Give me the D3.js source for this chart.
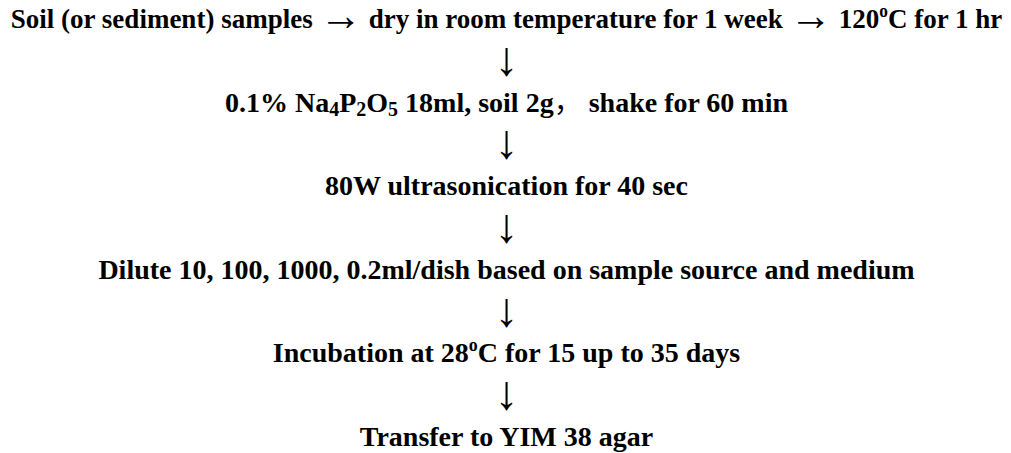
<!DOCTYPE html>
<html>
<head>
<meta charset="utf-8">
<script src="https://cdn.jsdelivr.net/npm/d3@7"></script>
<style>
  html, body { margin: 0; padding: 0; background: #fff; }
  svg { display: block; }
</style>
</head>
<body>
<svg id="chart" width="1011" height="453"></svg>
<script>
// Flowchart steps: each step is a list of [text, style] segments
// style: "n" normal, "sup" superscript, "sub" subscript, "arr" arrow glyph, "cjk" full-width punctuation
const step1 = [["Soil (or sediment) samples ", "n"], ["\u2192", "arr"], [" dry in room temperature for 1 week ", "n"], ["\u2192", "arr"], [" 120", "n"], ["o", "sup"], ["C for 1 hr", "n"]];
const step2 = [["0.1% Na", "n"], ["4", "sub"], ["P", "n"], ["2", "sub"], ["O", "n"], ["5", "sub"], [" 18ml, soil 2g", "n"], ["\uFF0C", "cjk"], [" shake for 60 min", "n"]];
const step3 = [["80W ultrasonication for 40 sec", "n"]];
const step4 = [["Dilute 10, 100, 1000, 0.2ml/dish based on sample source and medium", "n"]];
const step5 = [["Incubation at 28", "n"], ["o", "sup"], ["C for 15 up to 35 days", "n"]];
const step6 = [["Transfer to YIM 38 agar", "n"]];
const steps = [step1, step2, step3, step4, step5, step6];
const arrowGlyph = "\u2193";

const W = 1011, H = 453;
const firstLineWidth = 992;
const svg = d3.select("#chart");

// rows: step, arrow, step, arrow, ...
const rows = [];
steps.forEach((s, i) => {
  rows.push({ kind: "step", segs: s });
  if (i < steps.length - 1) rows.push({ kind: "arrow", segs: [[arrowGlyph, "arr"]] });
});

const y = d3.scalePoint().domain(d3.range(rows.length)).range([28, 446]);
const cx = W / 2 + 1;

const serif = "'Liberation Serif', 'Times New Roman', serif";
const shift = { n: 0, arr: 0, cjk: 0, sup: -11, sub: 4 };

rows.forEach((r, i) => {
  const g = svg.append("g");
  const t = g.append("text")
    .attr("x", cx)
    .attr("y", y(i) + (r.kind === "arrow" ? 5 : 0))
    .attr("text-anchor", "middle")
    .attr("font-family", serif)
    .attr("font-weight", "bold")
    .attr("font-size", 28)
    .attr("fill", "#000");
  let offset = 0;
  r.segs.forEach(([txt, st]) => {
    const ts = t.append("tspan").text(txt);
    let target = shift[st];
    if (st === "sup") ts.attr("font-size", 18);
    else if (st === "sub") ts.attr("font-size", 20);
    else if (st === "arr") {
      ts.attr("font-weight", "normal").attr("font-size", r.kind === "step" ? 44 : 48);
      if (r.kind === "step") target = 2;
    }
    else if (st === "cjk") ts.attr("font-family", "'Noto Sans CJK SC', sans-serif").attr("font-weight", "normal");
    ts.attr("dy", target - offset);
    offset = target;
  });
  // first line: fit to its width in the reference
  if (i === 0) {
    const w = t.node().getComputedTextLength();
    if (w > firstLineWidth) {
      const k = firstLineWidth / w;
      g.attr("transform", `translate(${cx},0) scale(${k},1) translate(${-cx},0)`);
    }
  }
});
</script>
</body>
</html>
